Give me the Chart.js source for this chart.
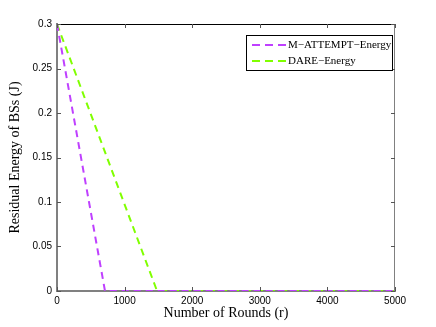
<!DOCTYPE html>
<html lang="en">
  <head>
    <meta charset="UTF-8" />
    <title>Residual Energy</title>
    <script src="https://cdn.jsdelivr.net/npm/chart.js"></script>
    <style>
      body { margin: 0; background: #fff; }
      canvas { display: block; }
    </style>
  </head>
  <body>
    <canvas id="energyChart" width="436" height="327"></canvas>

    <script>
      // data
      const attemptRounds = [0, 710, 5000];
      const attemptEnergy = [0.3, 0, 0];
      const dareRounds = [0, 1480, 5000];
      const dareEnergy = [0.3, 0, 0];
      const xTicks = [0, 1000, 2000, 3000, 4000, 5000];
      const yTicks = [0, 0.05, 0.1, 0.15, 0.2, 0.25, 0.3];

      const purple = "#bf40ff";
      const green = "#80ff00";
      const dash = [7, 5];
      const serif = "'Liberation Serif', 'DejaVu Serif', serif";
      const sans = "'Liberation Sans', Arial, sans-serif";

      function toPoints(xs, ys) {
        return xs.map((x, i) => ({ x: x, y: ys[i] }));
      }

      // box, inward ticks and the framed legend (matlab look)
      const matlabFrame = {
        id: "matlabFrame",
        afterDraw(chart) {
          const ctx = chart.ctx;
          const a = chart.chartArea;
          const xs = chart.scales.x;
          const ys = chart.scales.y;
          ctx.save();
          ctx.lineWidth = 1;
          ctx.strokeStyle = "#000";
          ctx.beginPath();
          ctx.moveTo(a.left, a.top + 0.5);
          ctx.lineTo(a.right, a.top + 0.5);
          ctx.stroke();
          ctx.strokeStyle = "#808080";
          ctx.beginPath();
          ctx.moveTo(a.right - 0.5, a.top);
          ctx.lineTo(a.right - 0.5, a.bottom);
          ctx.stroke();
          ctx.strokeStyle = "#555";
          xTicks.forEach((v) => {
            const px = Math.round(xs.getPixelForValue(v)) + 0.5;
            ctx.beginPath();
            ctx.moveTo(px, a.bottom);
            ctx.lineTo(px, a.bottom - 4);
            ctx.moveTo(px, a.top);
            ctx.lineTo(px, a.top + 4);
            ctx.stroke();
          });
          yTicks.forEach((v) => {
            const py = Math.round(ys.getPixelForValue(v)) + 0.5;
            ctx.beginPath();
            ctx.moveTo(a.left, py);
            ctx.lineTo(a.left + 4, py);
            ctx.moveTo(a.right, py);
            ctx.lineTo(a.right - 4, py);
            ctx.stroke();
          });

          // legend
          const lx = 246, ly = 35, lw = 146, lh = 35;
          ctx.fillStyle = "#fff";
          ctx.fillRect(lx, ly, lw, lh);
          ctx.strokeStyle = "#000";
          ctx.strokeRect(lx + 0.5, ly + 0.5, lw, lh);
          ctx.font = "11px " + serif;
          ctx.textBaseline = "middle";
          chart.data.datasets.forEach((ds, i) => {
            const rowY = ly + 10 + i * 16;
            ctx.strokeStyle = ds.borderColor;
            ctx.lineWidth = 2;
            ctx.setLineDash([8, 5]);
            ctx.beginPath();
            ctx.moveTo(lx + 6, rowY);
            ctx.lineTo(lx + 40, rowY);
            ctx.stroke();
            ctx.setLineDash([]);
            ctx.fillStyle = "#000";
            ctx.fillText(ds.label, lx + 42, rowY);
          });
          ctx.restore();
        },
      };

      new Chart(document.getElementById("energyChart"), {
        type: "line",
        data: {
          datasets: [
            {
              label: "M\u2212ATTEMPT\u2212Energy",
              data: toPoints(attemptRounds, attemptEnergy),
              borderColor: purple,
              borderWidth: 2,
              borderDash: dash,
              pointRadius: 0,
              fill: false,
              tension: 0,
              order: 1,
            },
            {
              label: "DARE\u2212Energy",
              data: toPoints(dareRounds, dareEnergy),
              borderColor: green,
              borderWidth: 2,
              borderDash: dash,
              pointRadius: 0,
              fill: false,
              tension: 0,
              order: 2,
            },
          ],
        },
        options: {
          responsive: false,
          animation: false,
          layout: { padding: { top: 24, right: 41, left: 0, bottom: 5 } },
          plugins: { legend: { display: false }, tooltip: { enabled: false } },
          scales: {
            x: {
              type: "linear",
              min: 0,
              max: 5000,
              afterBuildTicks: (s) => { s.ticks = xTicks.map((v) => ({ value: v })); },
              afterFit: (s) => { s.height = 31; },
              grid: { display: false, drawTicks: false },
              border: { color: "#808080", width: 2 },
              ticks: {
                color: "#000",
                font: { family: sans, size: 10 },
                padding: 4,
                maxRotation: 0,
                callback: (v) => String(v),
              },
              title: {
                display: true,
                text: "Number of Rounds (r)",
                color: "#000",
                font: { family: serif, size: 14 },
                padding: { top: 0, bottom: 0 },
              },
            },
            y: {
              min: 0,
              max: 0.3,
              afterBuildTicks: (s) => { s.ticks = yTicks.map((v) => ({ value: v })); },
              afterFit: (s) => { s.width = 57; },
              grid: { display: false, drawTicks: false },
              border: { color: "#808080", width: 2 },
              ticks: {
                color: "#000",
                font: { family: sans, size: 10 },
                padding: 5,
                callback: (v) => String(Number(v.toFixed(2))),
              },
              title: {
                display: true,
                text: "Residual Energy of BSs (J)",
                color: "#000",
                font: { family: serif, size: 14 },
                padding: { top: 7, bottom: 0 },
              },
            },
          },
        },
        plugins: [matlabFrame],
      });
    </script>
  </body>
</html>
